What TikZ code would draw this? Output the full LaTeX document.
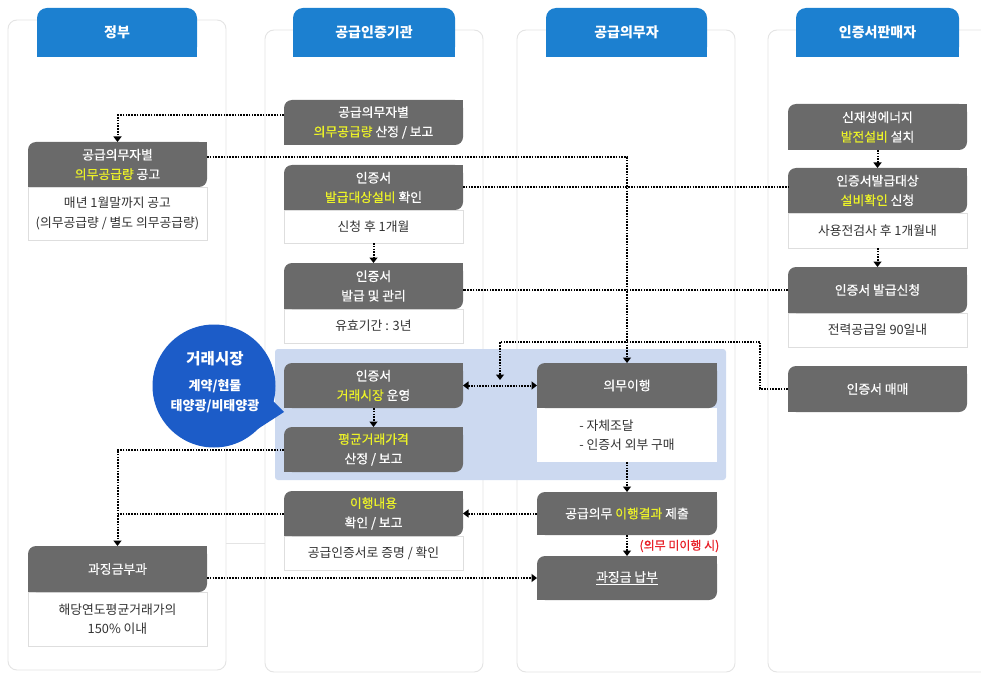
\documentclass[tikz,border=0pt]{standalone}
\usepackage{fontspec}
\setmainfont{Noto Sans CJK KR}
\newfontfamily\medfont{Noto Sans CJK KR}[FakeBold=0.6]
\usetikzlibrary{arrows.meta,calc}
\definecolor{hdrblue}{RGB}{28,128,208}
\definecolor{boxgray}{RGB}{106,106,106}
\definecolor{panelline}{RGB}{228,228,228}
\definecolor{subline}{RGB}{222,222,222}
\definecolor{subtext}{RGB}{50,50,50}
\definecolor{bandblue}{RGB}{204,217,240}
\definecolor{bubbleblue}{RGB}{28,92,200}
\definecolor{hlyellow}{RGB}{236,242,40}
\definecolor{warnred}{RGB}{232,32,40}
\newcommand\fs[1]{\fontsize{#1}{19.5}\selectfont}
\newcommand\hlt[1]{\textcolor{hlyellow}{#1}}
% name, x1, y1, x2, y2, text
\newcommand\mkdbox[6]{%
  \node[dboxst, minimum width={#4-#2}, minimum height={#5-#3}] (#1) at ({(#2+#4)/2},{(#3+#5)/2}) {#6};
  \fill[boxgray] ({#4-9},#3) rectangle (#4,{#3+9});
  \fill[boxgray] (#2,{#5-9}) rectangle ({#2+9},#5);
}
\newcommand\mksbox[6]{%
  \node[sboxst, minimum width={#4-#2}, minimum height={#5-#3}] (#1) at ({(#2+#4)/2},{(#3+#5)/2}) {#6};
}
\newcommand\mkhdr[6]{%
  \fill[hdrblue,rounded corners=10pt] (#2,#3) rectangle (#4,#5);
  \fill[hdrblue] (#2,{#5-14}) rectangle (#4,#5);
  \node[hdrst] (#1) at ({(#2+#4)/2},{(#3+#5)/2}) {#6};
}
\begin{document}
\begin{tikzpicture}[x=1pt,y=-1pt,
  panel/.style={draw=panelline,line width=0.9pt,rounded corners=9pt},
  dboxst/.style={fill=boxgray,rounded corners=8pt,text=white,align=center,inner sep=0pt,outer sep=0pt,font=\medfont\fs{12.8}},
  sboxst/.style={fill=white,draw=subline,line width=0.8pt,text=subtext,align=center,inner sep=0pt,outer sep=0pt,font=\fs{12.8}},
  hdrst/.style={text=white,font=\bfseries\fs{14}},
  conn/.style={line width=2pt,dash pattern=on 1.6pt off 1.2pt,draw=black},
  arr/.style={conn,-{Triangle[length=5.5pt,width=8pt]}},
  darr/.style={conn,{Triangle[length=5.5pt,width=8pt]}-{Triangle[length=5.5pt,width=8pt]}}
]
\path[use as bounding box,clip] (0,0) rectangle (981,676);
\fill[white] (0,0) rectangle (981,676);

% column panels
\draw[panel] (8,20) rectangle (226,670);
\draw[panel] (265,30) rectangle (483,672);
\draw[panel] (517,30) rectangle (735,672);
\draw[panel] (768,30) rectangle (1000,672);
\draw[draw=panelline,line width=0.9pt] (226,543) -- (265,543);

% headers
\mkhdr{h1}{37}{8}{197}{57}{정부}
\mkhdr{h2}{293}{8}{455}{57}{공급인증기관}
\mkhdr{h3}{546}{8}{707}{57}{공급의무자}
\mkhdr{h4}{796}{8}{959}{57}{인증서판매자}

% trading band
\fill[bandblue,rounded corners=3pt] (275,349) rectangle (726,480);

% speech bubble
\fill[bubbleblue] (214,386) circle (61.5);
\fill[bubbleblue] (262,390) -- (284,412) -- (250,434) -- cycle;
\node[text=white,font=\bfseries\fs{15.5}] (bt) at (215,359) {거래시장};
\node[text=white,font=\bfseries\fs{13}] (bm) at (215,386) {계약/현물};
\node[text=white,font=\bfseries\fs{13}] (bb) at (215,406) {태양광/비태양광};

% column 1
\mksbox{c1s}{28}{187}{207}{240}{매년 1월말까지 공고\\(의무공급량 / 별도 의무공급량)}
\mkdbox{c1}{28}{142}{207}{187}{공급의무자별\\\hlt{의무공급량} 공고}
\mksbox{c9s}{28}{592}{207}{646}{해당연도평균거래가의\\150\% 이내}
\mkdbox{c9}{28}{546}{207}{592}{과징금부과}

% column 2
\mkdbox{g1}{284}{100}{463}{145}{공급의무자별\\\hlt{의무공급량} 산정 / 보고}
\mksbox{g2s}{284}{210}{463}{243}{신청 후 1개월}
\mkdbox{g2}{284}{165}{463}{210}{인증서\\\hlt{발급대상설비} 확인}
\mksbox{g3s}{284}{309}{463}{343}{유효기간 : 3년}
\mkdbox{g3}{284}{263}{463}{309}{인증서\\발급 및 관리}
\mkdbox{g4}{284}{363}{463}{408}{인증서\\\hlt{거래시장} 운영}
\mkdbox{g5}{284}{427}{463}{472}{\hlt{평균거래가격}\\산정 / 보고}
\mksbox{g6s}{284}{536}{463}{570}{공급인증서로 증명 / 확인}
\mkdbox{g6}{284}{491}{463}{536}{\hlt{이행내용}\\확인 / 보고}

% column 3
\node[sboxst,draw=none,minimum width=180pt,minimum height=54pt,align=left] (u1s) at (627,435) {- 자체조달\\- 인증서 외부 구매};
\mkdbox{u1}{537}{363}{717}{408}{의무이행}
\mkdbox{u2}{537}{492}{717}{535}{공급의무 \hlt{이행결과} 제출}
\mkdbox{u3}{537}{556}{717}{600}{\underline{과징금 납부}}

% column 4
\mkdbox{s1}{788}{104}{967}{150}{신재생에너지\\\hlt{발전설비} 설치}
\mksbox{s2s}{788}{213}{967}{248}{사용전검사 후 1개월내}
\mkdbox{s2}{788}{168}{967}{213}{인증서발급대상\\\hlt{설비확인} 신청}
\mksbox{s3s}{788}{313}{967}{347}{전력공급일 90일내}
\mkdbox{s3}{788}{267}{967}{313}{인증서 발급신청}
\mkdbox{s4}{788}{366}{967}{412}{인증서 매매}

% connectors
\coordinate (m1) at (760,342);
\coordinate (m2) at (500,380);
\draw[arr] ([yshift=7pt]g1.west) -| (c1.north);
\draw[arr] ([yshift=7.5pt]c1.east) -| (u1.north);
\draw[conn] (g2.east) -- (g2.east -| s2.west);
\draw[conn] (s3.west) -- (s3.west -| g3.east);
\draw[arr] (g2s.south) -- (g3.north);
\draw[arr] (s1.south) -- (s2.north);
\draw[arr] (s2s.south) -- (s3.north);
\draw[conn] (s4.west) -| (m1);
\draw[arr] (m1) -| (m2);
\draw[darr] (g4.east) -- (u1.west);
\draw[arr] (g4.south) -- (g5.north);
\draw[arr] (g5.west) -| (c9.north);
\draw[conn] (g6.west) -- (g6.west -| c9.north);
\draw[arr] (u1s.south) -- (u2.north);
\draw[arr] (u2.west) -- (g6.east);
\draw[arr] (u2.south) -- (u3.north);
\node[text=warnred,font=\medfont\fs{12},anchor=west] (lbl) at (636,546) {(의무 미이행 시)};
\draw[arr] (c9.east |- u3.west) -- (u3.west);
\end{tikzpicture}
\end{document}
